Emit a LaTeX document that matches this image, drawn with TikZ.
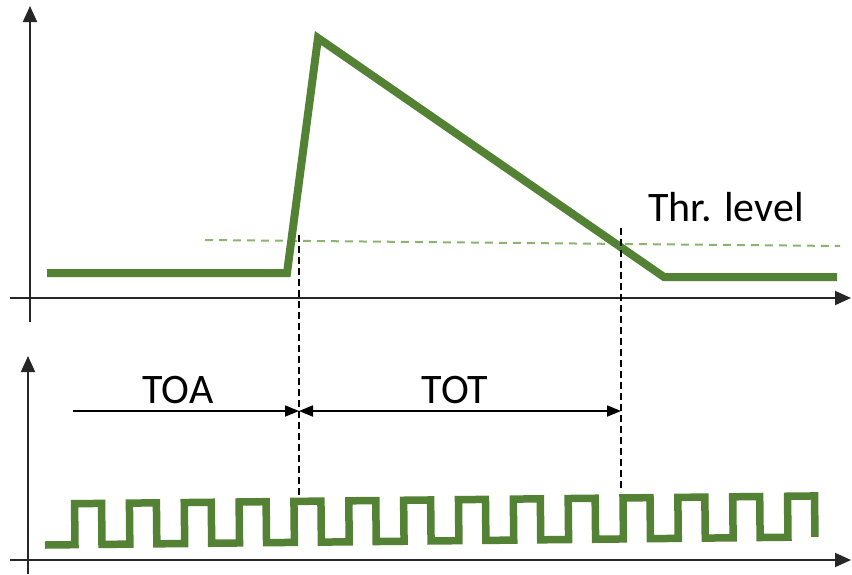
\documentclass[tikz,border=0pt]{standalone}
\usepackage{fontspec}
\setmainfont{Carlito}
\usetikzlibrary{arrows.meta}
\definecolor{sig}{HTML}{548235}
\definecolor{thr}{HTML}{8DB46F}
\tikzset{
  axis/.style={line width=2pt, draw=black!85, -{Triangle[length=16pt,width=14pt]}},
  signal/.style={line width=8pt, draw=sig, line join=miter},
  clock/.style={line width=7.5pt, draw=sig, line join=miter},
  thrline/.style={line width=2pt, draw=thr, dash pattern=on 8pt off 6pt},
  marker/.style={line width=1.5pt, draw=black, dash pattern=on 7pt off 4pt},
  dim/.style={line width=1.8pt, draw=black},
  lbl/.style={font=\fontsize{42}{50}\selectfont, text=black, inner sep=0pt, anchor=base}
}
\begin{document}
\begin{tikzpicture}[x=1pt,y=-1pt]
\useasboundingbox (0,0) rectangle (852,574);
% axes
\coordinate (ty0) at (30,322); \coordinate (ty1) at (30,6);
\coordinate (tx0) at (10,298); \coordinate (tx1) at (851,298);
\coordinate (by0) at (28,574); \coordinate (by1) at (28,356);
\coordinate (bx0) at (10,560); \coordinate (bx1) at (851,560);
\draw[axis] (ty0) -- (ty1);
\draw[axis] (tx0) -- (tx1);
\draw[axis] (by0) -- (by1);
\draw[axis] (bx0) -- (bx1);
% threshold
\coordinate (th0) at (205,240); \coordinate (th1) at (840,246);
\draw[thrline] (th0) -- (th1);
% signal
\coordinate (s0) at (47,273); \coordinate (s1) at (287,273);
\coordinate (s2) at (318,38); \coordinate (s3) at (664,277);
\coordinate (s4) at (837,277);
\draw[signal] (s0) -- (s1) -- (s2) -- (s3) -- (s4);
% markers
\coordinate (m0a) at (299,235); \coordinate (m0b) at (299,495);
\coordinate (m1a) at (621,228); \coordinate (m1b) at (621,492);
\draw[marker] (m0a) -- (m0b);
\draw[marker] (m1a) -- (m1b);
% dimension arrows
\coordinate (toa0) at (73,411); \coordinate (toa1) at (299,411);
\coordinate (tot1) at (621,411);
\draw[dim, -{Triangle[length=14pt,width=11pt]}] (toa0) -- (toa1);
\draw[dim, {Triangle[length=14pt,width=11pt]}-{Triangle[length=14pt,width=11pt]}] (toa1) -- (tot1);
% labels
\node[lbl] (ltoa) at (178,403) {TOA};
\node[lbl] (ltot) at (455,403) {TOT};
\node[lbl] (lthr) at (726,221) {Thr. level};
% clock
\begin{scope}[rotate around={0.6:(45,545)}]
\draw[clock] (45,545)
  \foreach \i in {0,...,13} {
    -- ({75+54.85*\i},545) -- ({75+54.85*\i},504)
    -- ({102+54.85*\i},504) -- ({102+54.85*\i},545)
  };
\end{scope}
\end{tikzpicture}
\end{document}
